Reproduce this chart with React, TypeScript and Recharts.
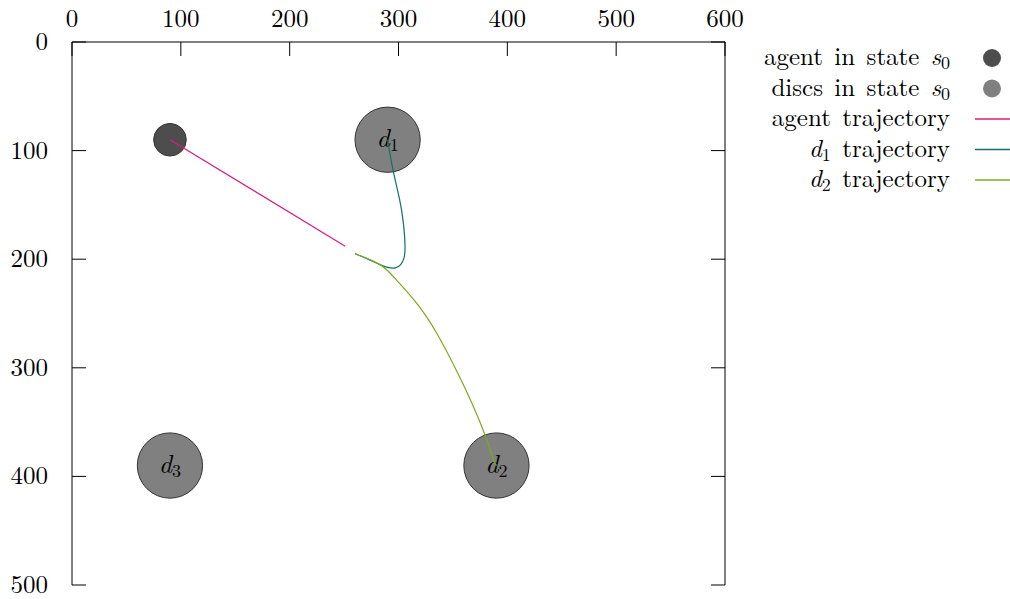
import React from 'react';
import { ComposedChart, Scatter, Line, XAxis, YAxis } from 'recharts';

// plot box in page pixels (the chart is pinned to the page corner)
const PLOT_LEFT = 72;
const PLOT_RIGHT = 725;
const PX_PER_UNIT = (PLOT_RIGHT - PLOT_LEFT) / 600;

const xTicks = [0, 100, 200, 300, 400, 500, 600];
const yTicks = [0, 100, 200, 300, 400, 500];

const agent = [{ x: 90, y: 90, r: 15, label: '' }];
const discs = [
  { x: 290, y: 90, r: 30, label: '1' },
  { x: 390, y: 390, r: 30, label: '2' },
  { x: 90, y: 390, r: 30, label: '3' },
];

const agentTrajectory = [
  { x: 90, y: 90 },
  { x: 251, y: 188 },
];

const d1Trajectory = [
  { x: 290, y: 90 },
  { x: 295, y: 118 },
  { x: 301, y: 145 },
  { x: 304.5, y: 167 },
  { x: 306, y: 188 },
  { x: 305, y: 199 },
  { x: 302, y: 205 },
  { x: 297, y: 208 },
  { x: 290, y: 207.5 },
  { x: 283, y: 205 },
  { x: 271, y: 199.5 },
  { x: 260, y: 195 },
];

const d2Trajectory = [
  { x: 260, y: 195 },
  { x: 283, y: 205 },
  { x: 298, y: 219 },
  { x: 317, y: 241 },
  { x: 335, y: 268 },
  { x: 353, y: 302 },
  { x: 369, y: 336 },
  { x: 381, y: 366 },
  { x: 387, y: 384 },
  { x: 390, y: 390 },
];

const FONT = 'Latin Modern Roman';
const TICK_LEN = 14;

const COLORS = {
  agent: '#4d4d4d',
  disc: '#808080',
  agentLine: '#d81b7f',
  d1Line: '#127068',
  d2Line: '#7aab1c',
};

const textStyle = { fontFamily: FONT };

const TopTick = (props: any) => {
  const { x, y, payload } = props;
  return (
    <g>
      <text x={x} y={y} textAnchor="middle" style={textStyle} fontSize={25} fill="#000">
        {payload.value}
      </text>
      <line x1={x} y1={y + 15} x2={x} y2={y + 15 + TICK_LEN} stroke="#000" />
    </g>
  );
};

const BottomTick = (props: any) => {
  const { x, y } = props;
  return <line x1={x} y1={y} x2={x} y2={y - TICK_LEN} stroke="#000" />;
};

const LeftTick = (props: any) => {
  const { x, y, payload } = props;
  return (
    <g>
      <text x={x} y={y + 8} textAnchor="end" style={textStyle} fontSize={25} fill="#000">
        {payload.value}
      </text>
      <line x1={x + 24} y1={y} x2={x + 24 + TICK_LEN} y2={y} stroke="#000" />
    </g>
  );
};

const RightTick = (props: any) => {
  const { x, y } = props;
  return <line x1={x} y1={y} x2={x - TICK_LEN} y2={y} stroke="#000" />;
};

const makeDisc = (fill: string) => (props: any) => {
  const { cx, cy, payload } = props;
  const r = payload.r * PX_PER_UNIT;
  return (
    <g>
      <circle cx={cx} cy={cy} r={r} fill={fill} stroke="#333" strokeWidth={1} />
      {payload.label ? (
        <text x={cx} y={cy + 7} textAnchor="middle" style={textStyle} fontSize={26} fill="#000">
          <tspan fontStyle="italic">d</tspan>
          <tspan fontSize={18} dy={4}>{payload.label}</tspan>
        </text>
      ) : null}
    </g>
  );
};

const LegendBox = () => {
  const base = (i: number) => 35 + i * 30.5;
  return (
    <svg width={270} height={180} style={{ position: 'absolute', left: 740, top: 30 }}>
      <g style={{ fontFamily: FONT, wordSpacing: 3 }} fontSize={25} fill="#000" textAnchor="end">
        <text x={210} y={base(0)}>
          agent in state <tspan fontStyle="italic">s</tspan>
          <tspan fontSize={18} dy={4}>0</tspan>
        </text>
        <text x={210} y={base(1)}>
          discs in state <tspan fontStyle="italic">s</tspan>
          <tspan fontSize={18} dy={4}>0</tspan>
        </text>
        <text x={210} y={base(2)}>agent trajectory</text>
        <text x={210} y={base(3)}>
          <tspan fontStyle="italic">d</tspan>
          <tspan fontSize={18} dy={4}>1</tspan>
          <tspan dy={-4}> trajectory</tspan>
        </text>
        <text x={210} y={base(4)}>
          <tspan fontStyle="italic">d</tspan>
          <tspan fontSize={18} dy={4}>2</tspan>
          <tspan dy={-4}> trajectory</tspan>
        </text>
      </g>
      <circle cx={252} cy={base(0) - 7} r={9} fill={COLORS.agent} />
      <circle cx={252} cy={base(1) - 7} r={9} fill={COLORS.disc} />
      <line x1={235} x2={270} y1={base(2) - 7} y2={base(2) - 7} stroke={COLORS.agentLine} strokeWidth={1.5} />
      <line x1={235} x2={270} y1={base(3) - 7} y2={base(3) - 7} stroke={COLORS.d1Line} strokeWidth={1.5} />
      <line x1={235} x2={270} y1={base(4) - 7} y2={base(4) - 7} stroke={COLORS.d2Line} strokeWidth={1.5} />
    </svg>
  );
};

export default function App() {
  return (
    <div style={{ position: 'absolute', left: 0, top: 0, width: 1010, height: 599, background: '#fff' }}>
      <ComposedChart width={1010} height={599} margin={{ top: 12, left: 12, right: 284, bottom: 14 }}>
        <XAxis
          xAxisId="top"
          orientation="top"
          type="number"
          dataKey="x"
          domain={[0, 600]}
          ticks={xTicks}
          allowDataOverflow
          height={30}
          tickSize={0}
          tickMargin={15}
          tickLine={false}
          tick={<TopTick />}
          axisLine={{ stroke: '#000' }}
        />
        <XAxis
          xAxisId="bottom"
          orientation="bottom"
          type="number"
          dataKey="x"
          domain={[0, 600]}
          ticks={xTicks}
          allowDataOverflow
          height={0}
          tickSize={0}
          tickMargin={0}
          tickLine={false}
          tick={<BottomTick />}
          axisLine={{ stroke: '#000' }}
        />
        <YAxis
          yAxisId="left"
          orientation="left"
          type="number"
          dataKey="y"
          domain={[0, 500]}
          ticks={yTicks}
          reversed
          allowDataOverflow
          width={60}
          tickSize={0}
          tickMargin={24}
          tickLine={false}
          tick={<LeftTick />}
          axisLine={{ stroke: '#000' }}
        />
        <YAxis
          yAxisId="right"
          orientation="right"
          type="number"
          dataKey="y"
          domain={[0, 500]}
          ticks={yTicks}
          reversed
          allowDataOverflow
          width={1}
          tickSize={0}
          tickMargin={0}
          tickLine={false}
          tick={<RightTick />}
          axisLine={{ stroke: '#000' }}
        />
        <Scatter
          xAxisId="top"
          yAxisId="left"
          data={discs}
          dataKey="y"
          shape={makeDisc(COLORS.disc)}
          isAnimationActive={false}
        />
        <Scatter
          xAxisId="top"
          yAxisId="left"
          data={agent}
          dataKey="y"
          shape={makeDisc(COLORS.agent)}
          isAnimationActive={false}
        />
        <Line
          xAxisId="top"
          yAxisId="left"
          data={agentTrajectory}
          dataKey="y"
          type="linear"
          stroke={COLORS.agentLine}
          strokeWidth={1.2}
          dot={false}
          zIndex={700}
          isAnimationActive={false}
        />
        <Line
          xAxisId="top"
          yAxisId="left"
          data={d1Trajectory}
          dataKey="y"
          type="natural"
          stroke={COLORS.d1Line}
          strokeWidth={1.2}
          dot={false}
          zIndex={700}
          isAnimationActive={false}
        />
        <Line
          xAxisId="top"
          yAxisId="left"
          data={d2Trajectory}
          dataKey="y"
          type="natural"
          stroke={COLORS.d2Line}
          strokeWidth={1.2}
          dot={false}
          zIndex={700}
          isAnimationActive={false}
        />
      </ComposedChart>
      <LegendBox />
    </div>
  );
}
